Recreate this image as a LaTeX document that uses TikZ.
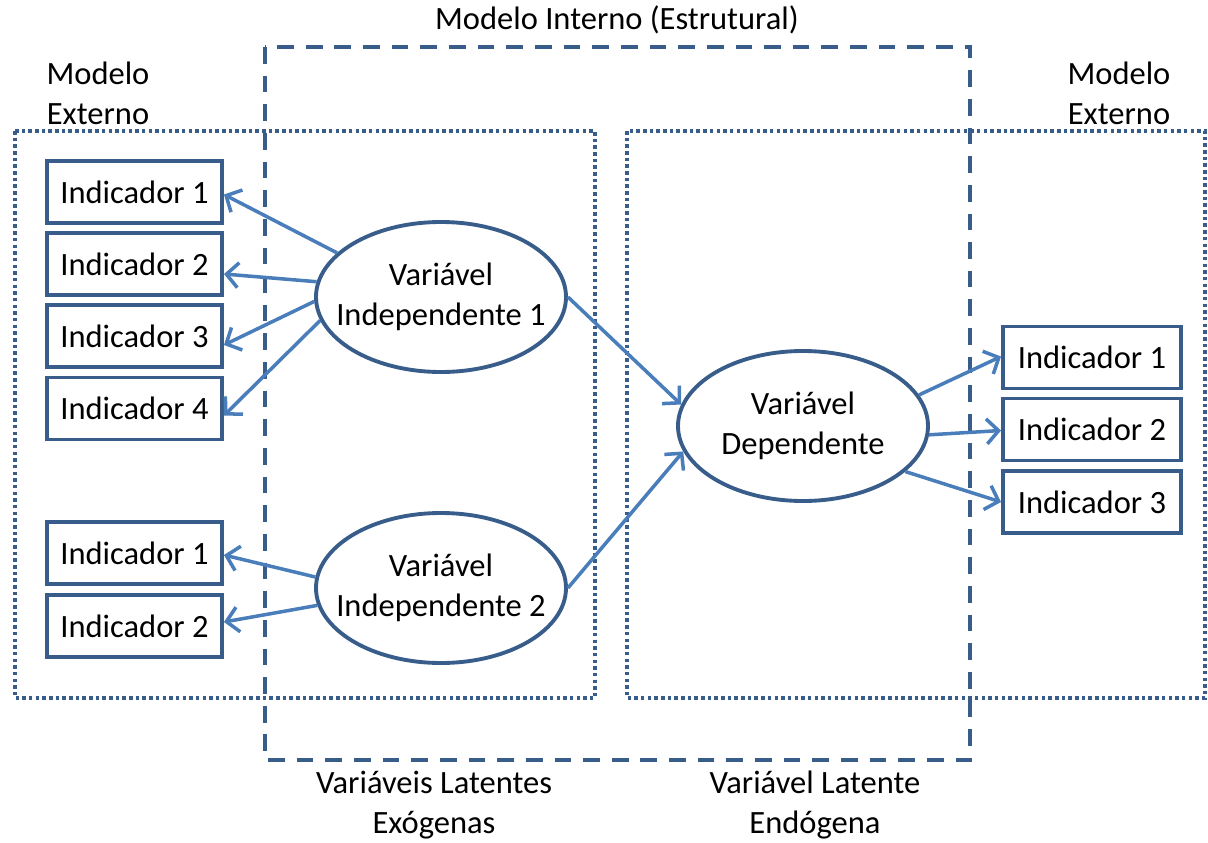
\documentclass[tikz,border=0pt]{standalone}
\usepackage{fontspec}
\setmainfont{Carlito}
\usepackage{tikz}
\usetikzlibrary{shapes.geometric}
\usetikzlibrary{arrows.meta}

\definecolor{caixa}{RGB}{56,93,138}
\definecolor{seta}{RGB}{74,126,187}

\begin{document}
\begin{tikzpicture}[every node/.style={font=\fontsize{18.5}{22.7}\selectfont, align=center},
  indicador/.style={draw=caixa, line width=2.2pt, rectangle, minimum width=3.5cm, minimum height=1.24cm},
  latente/.style={draw=caixa, line width=2.2pt, ellipse, minimum width=5cm, minimum height=3cm, inner xsep=-0.36cm, inner ysep=0pt},
  ligacao/.style={draw=seta, line width=2pt, -{Straight Barb[length=2.4mm, width=5mm, line width=2pt]}},
  pontilhado/.style={draw=caixa, line width=2pt, dash pattern=on 2pt off 1.8pt},
  tracejado/.style={draw=caixa, line width=2.2pt, dash pattern=on 9.5pt off 6.8pt}]
              \useasboundingbox (0,0) rectangle (24.16,-16.86);
              % Caixas
              \draw[tracejado] (5.3,-0.94) rectangle (19.4,-15.2);
              \draw[pontilhado] (0.3,-2.62) rectangle (11.9,-13.96);
              \draw[pontilhado] (12.54,-2.62) rectangle (24.1,-13.96);

              % Textos
              \node[draw=none] (interno) at (12.34,-0.4) {Modelo Interno (Estrutural)};
              \node[draw=none] (externoA) at (1.96,-1.86) {Modelo\\Externo};
              \node[draw=none] (externoB) at (22.38,-1.86) {Modelo\\Externo};
              \node[draw=none] (exogenas) at (8.68,-16.1) {Variáveis Latentes\\Exógenas};
              \node[draw=none] (endogena) at (16.3,-16.1) {Variável Latente\\Endógena};

              % Nodos
              \node[latente, fill=white] (vi1) at (8.82,-5.94) {Variável\\Independente 1};
              \node[latente, fill=white] (vi2) at (8.82,-11.76) {Variável\\Independente 2};
              \node[latente, fill=white] (vd) at (16.06,-8.52) {Variável\\Dependente};

              \node[indicador, fill=white] (a1) at (2.69,-3.84) {Indicador 1};
              \node[indicador, fill=white] (a2) at (2.69,-5.28) {Indicador 2};
              \node[indicador, fill=white] (a3) at (2.69,-6.72) {Indicador 3};
              \node[indicador, fill=white] (a4) at (2.69,-8.17) {Indicador 4};
              \node[indicador, fill=white] (b1) at (2.69,-11.06) {Indicador 1};
              \node[indicador, fill=white] (b2) at (2.69,-12.52) {Indicador 2};
              \node[indicador, fill=white, minimum width=3.56cm] (c1) at (21.84,-7.15) {Indicador 1};
              \node[indicador, fill=white, minimum width=3.56cm] (c2) at (21.84,-8.59) {Indicador 2};
              \node[indicador, fill=white, minimum width=3.56cm] (c3) at (21.84,-10.04) {Indicador 3};

              % Setas
              \draw[ligacao] (vi1.157) -- ([yshift=-0.05cm]a1.east);
              \draw[ligacao] (vi1.173) -- ([yshift=-0.2cm]a2.east);
              \draw[ligacao] (vi1.182) -- ([yshift=-0.18cm]a3.east);
              \draw[ligacao] (vi1.191) -- ([yshift=-0.14cm]a4.east);
              \draw[ligacao] (vi2.175) -- ([yshift=-0.04cm]b1.east);
              \draw[ligacao] (vi2.188) -- ([yshift=0.08cm]b2.east);
              \draw[ligacao] (vi1.east) -- (vd.170);
              \draw[ligacao] (vi2.east) -- (vd.192);
              \draw[ligacao] (vd.15) -- ([yshift=0.02cm]c1.west);
              \draw[ligacao] (vd.356) -- ([yshift=-0.02cm]c2.west);
              \draw[ligacao] (vd.336) -- ([yshift=0cm]c3.west);
            \end{tikzpicture}
\end{document}
